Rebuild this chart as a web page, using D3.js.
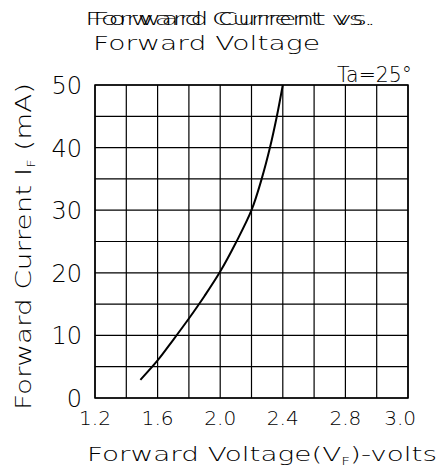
<!DOCTYPE html>
<html>
<head>
<meta charset="utf-8">
<script src="https://cdn.jsdelivr.net/npm/d3@7"></script>
<style>
  body { margin: 0; background: #fff; }
  svg text { font-family: "DejaVu Sans ExtraLight", "DejaVu Sans", "Liberation Sans", sans-serif; font-weight: 200; fill: #000; }
</style>
</head>
<body>
<div id="chart"></div>
<script>
// forward voltage (V) vs forward current (mA)
const voltage = [1.49, 1.6, 1.7, 1.8, 1.9, 2.0, 2.1, 2.2, 2.265, 2.318, 2.362, 2.4];
const current = [2.9, 6.0, 9.3, 12.7, 16.3, 20.2, 24.8, 30, 35, 40, 45, 50];

const yTicks = [0, 10, 20, 30, 40, 50];
const xTickLabels = ["1.2", "1.6", "2.0", "2.4", "2.8", "3.0"];
const xTickAt = [1.2, 1.6, 2.0, 2.4, 2.8, 3.15];

const width = 441,
  height = 468,
  plotLeft = 95,
  plotRight = 408,
  plotTop = 85,
  plotBottom = 398;

const svg = d3
  .select("#chart")
  .append("svg")
  .attr("width", width)
  .attr("height", height);

const x = d3.scaleLinear().domain([1.2, 3.2]).range([plotLeft, plotRight]);
const y = d3.scaleLinear().domain([0, 50]).range([plotBottom, plotTop]);

// grid
svg
  .append("g")
  .selectAll("line")
  .data(x.ticks(10))
  .enter()
  .append("line")
  .attr("x1", (d) => x(d))
  .attr("x2", (d) => x(d))
  .attr("y1", plotTop)
  .attr("y2", plotBottom)
  .attr("stroke", "#000")
  .attr("stroke-width", 1.2);

svg
  .append("g")
  .selectAll("line")
  .data(y.ticks(10))
  .enter()
  .append("line")
  .attr("x1", plotLeft)
  .attr("x2", plotRight)
  .attr("y1", (d) => y(d))
  .attr("y2", (d) => y(d))
  .attr("stroke", "#000")
  .attr("stroke-width", 1.2);

svg
  .append("rect")
  .attr("x", plotLeft)
  .attr("y", plotTop)
  .attr("width", plotRight - plotLeft)
  .attr("height", plotBottom - plotTop)
  .attr("fill", "none")
  .attr("stroke", "#000")
  .attr("stroke-width", 1.5);

// curve
const line = d3
  .line()
  .x((d, i) => x(voltage[i]))
  .y((d, i) => y(d))
  .curve(d3.curveCatmullRom.alpha(0.5));

svg
  .append("path")
  .attr("d", line(current))
  .attr("fill", "none")
  .attr("stroke", "#000")
  .attr("stroke-width", 2);

// tick labels
svg
  .append("g")
  .selectAll("text")
  .data(yTicks)
  .enter()
  .append("text")
  .attr("x", 82)
  .attr("y", (d) => y(d) + 9)
  .attr("text-anchor", "end")
  .attr("font-size", 24)
  .text((d) => d);

svg
  .append("g")
  .selectAll("text")
  .data(xTickAt)
  .enter()
  .append("text")
  .attr("x", (d) => x(d))
  .attr("y", 425)
  .attr("text-anchor", "middle")
  .attr("font-size", 20)
  .attr("textLength", 32)
  .attr("lengthAdjust", "spacingAndGlyphs")
  .text((d, i) => xTickLabels[i]);

// titles (first line is printed twice, slightly shifted, like the scan)
svg
  .append("text")
  .attr("x", 85)
  .attr("y", 25)
  .attr("font-size", 18)
  .attr("textLength", 288)
  .attr("lengthAdjust", "spacingAndGlyphs")
  .text("Forward Current vs.");

svg
  .append("text")
  .attr("x", 93)
  .attr("y", 25)
  .attr("font-size", 18)
  .attr("textLength", 283)
  .attr("lengthAdjust", "spacingAndGlyphs")
  .text("Forward Current vs.");

svg
  .append("text")
  .attr("x", 93)
  .attr("y", 50)
  .attr("font-size", 19)
  .attr("textLength", 227)
  .attr("lengthAdjust", "spacingAndGlyphs")
  .text("Forward Voltage");

svg
  .append("text")
  .attr("x", 337)
  .attr("y", 82)
  .attr("font-size", 21)
  .attr("textLength", 75)
  .attr("lengthAdjust", "spacingAndGlyphs")
  .text("Ta=25°");

// axis titles
const xTitle = svg
  .append("text")
  .attr("x", 87)
  .attr("y", 461)
  .attr("font-size", 20)
  .attr("textLength", 350)
  .attr("lengthAdjust", "spacingAndGlyphs");
xTitle.append("tspan").text("Forward Voltage(V");
xTitle.append("tspan").attr("font-size", 11).attr("dy", 4).text("F");
xTitle.append("tspan").attr("dy", -4).text(")-volts");

const yTitle = svg
  .append("text")
  .attr("transform", "translate(31,410) rotate(-90)")
  .attr("font-size", 21)
  .attr("textLength", 327)
  .attr("lengthAdjust", "spacingAndGlyphs");
yTitle.append("tspan").text("Forward Current I");
yTitle.append("tspan").attr("font-size", 11).attr("dy", 4).text("F");
yTitle.append("tspan").attr("dy", -4).text(" (mA)");
</script>
</body>
</html>
